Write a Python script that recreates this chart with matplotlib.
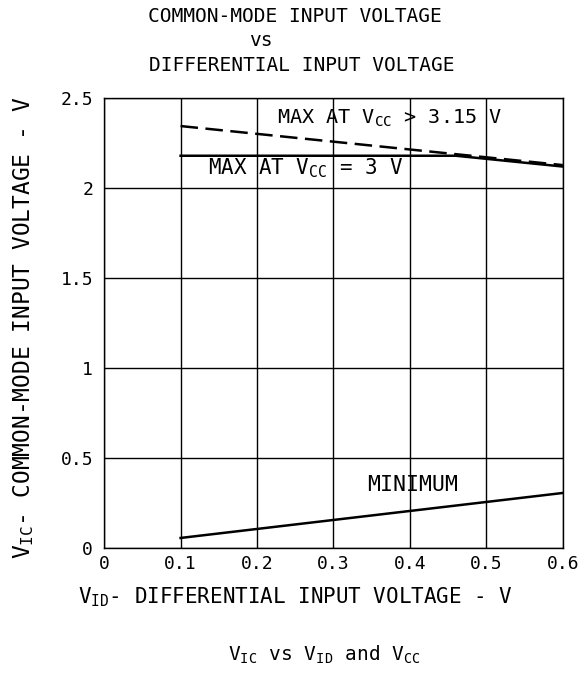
import matplotlib
matplotlib.use("Agg")
import matplotlib.pyplot as plt

# Data
vid_max_hi = [0.1, 0.6]
vic_max_hi = [2.345, 2.128]
vid_max_3v = [0.1, 0.46, 0.6]
vic_max_3v = [2.18, 2.18, 2.12]
vid_min = [0.1, 0.6]
vic_min = [0.056, 0.306]

xticks = [0, 0.1, 0.2, 0.3, 0.4, 0.5, 0.6]
xtick_labels = ["0", "0.1", "0.2", "0.3", "0.4", "0.5", "0.6"]
yticks = [0, 0.5, 1, 1.5, 2, 2.5]
ytick_labels = ["0", "0.5", "1", "1.5", "2", "2.5"]

plt.rcParams['font.family'] = ['DejaVu Sans Mono']
plt.rcParams['mathtext.fontset'] = 'custom'
plt.rcParams['mathtext.rm'] = 'DejaVu Sans Mono'
plt.rcParams['mathtext.it'] = 'DejaVu Sans Mono'

fig = plt.figure(figsize=(5.85, 6.77), dpi=100)
ax = fig.add_axes([0.178, 0.1905, 0.784, 0.6645])

ax.plot(vid_max_hi, vic_max_hi, color='black', lw=1.8, dashes=(7, 3))
ax.plot(vid_max_3v, vic_max_3v, color='black', lw=1.8)
ax.plot(vid_min, vic_min, color='black', lw=1.8)

ax.set_xlim(0, 0.6)
ax.set_ylim(0, 2.5)
ax.set_xticks(xticks)
ax.set_xticklabels(xtick_labels)
ax.set_yticks(yticks)
ax.set_yticklabels(ytick_labels)
ax.tick_params(length=0, labelsize=13)
ax.tick_params(axis='x', pad=5)
ax.tick_params(axis='y', pad=8)
ax.grid(True, color='black', lw=1)
for s in ax.spines.values():
    s.set_linewidth(1)

ax.text(0.374, 2.39, r"MAX AT V$_{\rm CC}$ > 3.15 V", ha='center', va='center', fontsize=14.5)
ax.text(0.264, 2.11, r"MAX AT V$_{\rm CC}$ = 3 V", ha='center', va='center', fontsize=15)
ax.text(0.404, 0.35, "MINIMUM", ha='center', va='center', fontsize=15.5)

ax.set_ylabel(r"V$_{\rm IC}$- COMMON-MODE INPUT VOLTAGE - V", fontsize=16.5)
ax.yaxis.set_label_coords(-0.148, 0.49)

fig.text(0.504, 0.976, "COMMON-MODE INPUT VOLTAGE", ha='center', va='center', fontsize=14)
fig.text(0.445, 0.94, "vs", ha='center', va='center', fontsize=14)
fig.text(0.516, 0.903, "DIFFERENTIAL INPUT VOLTAGE", ha='center', va='center', fontsize=14)
fig.text(0.505, 0.118, r"V$_{\rm ID}$- DIFFERENTIAL INPUT VOLTAGE - V", ha='center', va='center', fontsize=15)
fig.text(0.555, 0.032, r"V$_{\rm IC}$ vs V$_{\rm ID}$ and V$_{\rm CC}$", ha='center', va='center', fontsize=14)

fig.savefig("out.png", dpi=100)
